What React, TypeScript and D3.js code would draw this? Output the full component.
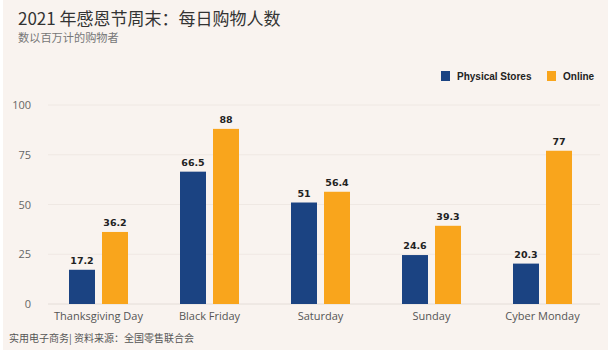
import React from "react";
import * as d3 from "d3";

const categories = ["Thanksgiving Day", "Black Friday", "Saturday", "Sunday", "Cyber Monday"];
const physicalStores = [17.2, 66.5, 51, 24.6, 20.3];
const online = [36.2, 88, 56.4, 39.3, 77];
const yTicks = [0, 25, 50, 75, 100];
const seriesNames = ["Physical Stores", "Online"];
const colors = ["#1b4382", "#f9a51c"];

const W = 612;
const H = 357;

export default function App() {
  const x = d3.scaleBand<string>().domain(categories).range([43, 598]);
  const y = d3.scaleLinear().domain([0, 100]).range([304, 105]);
  const barW = 26;
  const gap = 7;
  const series = [physicalStores, online];
  const cjk = "'Noto Sans CJK SC', sans-serif";
  const latin = "'Open Sans', 'Noto Sans', sans-serif";

  return (
    <svg width={W} height={H} style={{ position: "absolute", left: 0, top: 0 }} xmlns="http://www.w3.org/2000/svg">
      <rect x={0} y={0} width={W} height={H} fill="#ffffff" />
      <rect x={3} y={0} width={605} height={350} fill="#f9f3ef" />
      <text x={18} y={25} fontFamily={cjk} fontSize={17} fill="#333333">2021 年感恩节周末：每日购物人数</text>
      <text x={18} y={42} fontFamily={cjk} fontSize={11.2} fill="#777777">数以百万计的购物者</text>

      {seriesNames.map((name, i) => {
        const lx = i === 0 ? 441 : 547;
        return (
          <g key={name}>
            <rect x={lx} y={71} width={9} height={10} fill={colors[i]} />
            <text x={lx + 16} y={80} fontFamily="'Liberation Sans', Arial, sans-serif" fontWeight="bold" fontSize={10} fill="#222222">{name}</text>
          </g>
        );
      })}

      {yTicks.map((t) => (
        <g key={t}>
          <line x1={48} x2={600} y1={y(t)} y2={y(t)} stroke={t === 0 ? "#e4ddd8" : "#efe8e3"} strokeWidth={1} />
          <text x={31} y={y(t) + 4} textAnchor="end" fontFamily={latin} fontSize={11} fill="#666666">{t}</text>
        </g>
      ))}

      {categories.map((c, ci) => {
        const cx = (x(c) ?? 0) + x.bandwidth() / 2;
        return (
          <g key={c}>
            {series.map((vals, si) => {
              const bx = si === 0 ? cx - gap / 2 - barW : cx + gap / 2;
              const v = vals[ci];
              return (
                <g key={si}>
                  <rect x={bx} y={y(v)} width={barW} height={y(0) - y(v)} fill={colors[si]} />
                  <text x={bx + barW / 2} y={y(v) - 6} textAnchor="middle" fontFamily="'DejaVu Sans', sans-serif" fontWeight="bold" fontSize={9.5} fill="#222222">{v}</text>
                </g>
              );
            })}
            <text x={cx} y={320} textAnchor="middle" fontFamily={latin} fontSize={11} fill="#555555">{c}</text>
          </g>
        );
      })}

      <text x={9} y={342} fontFamily={cjk} fontSize={10} fill="#555555">实用电子商务| 资料来源：全国零售联合会</text>
    </svg>
  );
}
